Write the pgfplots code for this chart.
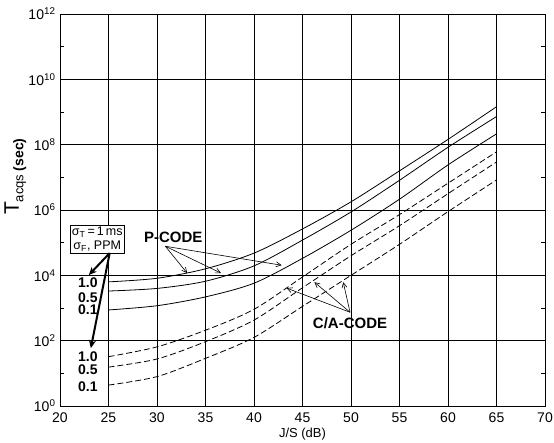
\documentclass[border=0pt]{standalone}
\usepackage{pgfplots}
\pgfplotsset{compat=1.18}
\usepackage{fontspec}
\setmainfont{Liberation Sans}
\usetikzlibrary{calc,arrows.meta}

% acquisition time versus J/S, P-code (solid) and C/A-code (dashed)
\pgfplotstableread{
js   p10     p05     p01     c10     c05     c01
25   6310    3310    871     32.4    15.5    4.37
30   8130    3980    1175    64.6    27.5    7.94
35   15850   6610    2190    209     93.3    28.8
40   47900   19500   5750    912     427     126
45   2.63e5  1.20e5  33100   8910    4170    1120
50   1.78e6  8.71e5  2.40e5  89100   39800   10000
55   1.58e7  8.13e6  2.14e6  7.24e5  3.31e5  89100
60   1.45e8  8.32e7  2.40e7  6.61e6  3.16e6  8.91e5
65   1.45e9  7.24e8  2.14e8  6.03e7  2.95e7  8.32e6
}\acqdata

\begin{document}
\begin{tikzpicture}
\begin{axis}[
  scale only axis,
  width=485pt, height=392pt,
  xmin=20, xmax=70,
  ymode=log, ymin=1, ymax=1e12,
  xtick={20,25,...,70},
  xticklabels={20,25,30,35,40,45,50,55,60,65,70},
  ytick={1,1e2,1e4,1e6,1e8,1e10,1e12},
  yticklabels={10\textsuperscript{0},10\textsuperscript{2},10\textsuperscript{4},10\textsuperscript{6},10\textsuperscript{8},10\textsuperscript{10},10\textsuperscript{12}},
  minor ytick={1e1,1e3,1e5,1e7,1e9,1e11},
  grid=major,
  major grid style={black, line width=0.9pt},
  axis line style={black, line width=0.9pt},
  major tick length=0pt,
  minor tick length=4pt,
  minor tick style={black, line width=0.7pt},
  tick label style={font=\fontsize{14}{16}\selectfont},
  xticklabel style={yshift=-3pt},
  yticklabel style={xshift=-1pt},
  xlabel={J/S (dB)},
  xlabel style={font=\fontsize{13}{15}\selectfont, yshift=1pt},
  clip=false,
]
\addplot[black, line width=0.8pt, smooth] table[x=js, y=p10] {\acqdata};
\addplot[black, line width=0.8pt, smooth] table[x=js, y=p05] {\acqdata};
\addplot[black, line width=0.8pt, smooth] table[x=js, y=p01] {\acqdata};
\addplot[black, line width=0.8pt, smooth, dash pattern=on 6pt off 3pt] table[x=js, y=c10] {\acqdata};
\addplot[black, line width=0.8pt, smooth, dash pattern=on 6pt off 3pt] table[x=js, y=c05] {\acqdata};
\addplot[black, line width=0.8pt, smooth, dash pattern=on 6pt off 3pt] table[x=js, y=c01] {\acqdata};

% y-axis label
\node[rotate=90] at (axis description cs:-0.092,0.585)
  {\fontsize{21}{22}\selectfont T\raisebox{-0.22em}{\fontsize{13}{14}\selectfont acqs \fontsize{14}{15}\selectfont\bfseries (sec)}};

% parameter box and its pointers
\node[draw, fill=white, line width=0.6pt, inner sep=2pt, align=center,
      font=\fontsize{12.5}{13.5}\selectfont]
  at (axis cs:23.84,1.29e5) {σ\textsubscript{T}\,=\,1\,ms\\σ\textsubscript{F}, PPM};
\draw[line width=2pt, -{Stealth[length=8pt,width=7pt]}]
  (axis cs:25.12,4.8e4) -- (axis cs:22.97,1.02e4);
\draw[line width=2pt, -{Stealth[length=8pt,width=7pt]}]
  (axis cs:25.12,4.8e4) -- (axis cs:23.18,59);

% curve parameter values
\begin{scope}[font=\fontsize{14}{16}\selectfont\bfseries]
\node at (axis cs:22.87,6170) {1.0};
\node at (axis cs:22.87,2140) {0.5};
\node at (axis cs:22.87,871)  {0.1};
\node at (axis cs:22.87,31.6) {1.0};
\node at (axis cs:22.87,12.6) {0.5};
\node at (axis cs:22.87,3.8)  {0.1};
\end{scope}

% code labels
\node[font=\fontsize{15}{17}\selectfont\bfseries] at (axis cs:31.68,1.48e5) {P-CODE};
\draw[line width=0.6pt, -{Straight Barb[length=5pt,width=5pt]}]
  (axis cs:30.86,7.76e4) -- (axis cs:33.11,1.17e4);
\draw[line width=0.6pt, -{Straight Barb[length=5pt,width=5pt]}]
  (axis cs:30.86,7.76e4) -- (axis cs:36.6,1.17e4);
\draw[line width=0.6pt, -{Straight Barb[length=5pt,width=5pt]}]
  (axis cs:30.86,7.76e4) -- (axis cs:42.85,2.04e4);

\node[font=\fontsize{15}{17}\selectfont\bfseries] at (axis cs:49.9,347) {C/A-CODE};
\draw[line width=0.6pt, -{Straight Barb[length=5pt,width=5pt]}]
  (axis cs:49.9,741) -- (axis cs:43.36,4070);
\draw[line width=0.6pt, -{Straight Barb[length=5pt,width=5pt]}]
  (axis cs:49.9,741) -- (axis cs:46.23,6170);
\draw[line width=0.6pt, -{Straight Barb[length=5pt,width=5pt]}]
  (axis cs:49.9,741) -- (axis cs:49.2,6170);
\end{axis}
\pgfresetboundingbox
\path ($(current axis.south west)+(-60pt,-36pt)$) rectangle ($(current axis.north east)+(9pt,14pt)$);
\end{tikzpicture}
\end{document}
